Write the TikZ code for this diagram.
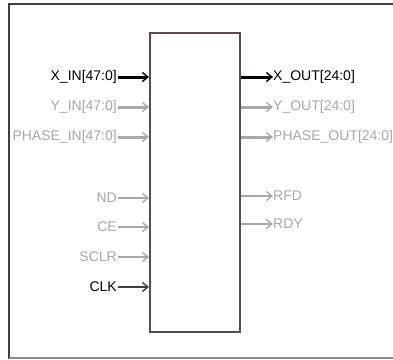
\documentclass[tikz,border=0pt]{standalone}
\usepackage{fontspec}
\setmainfont{Liberation Sans}
\usetikzlibrary{arrows.meta,positioning}

\definecolor{pinoff}{HTML}{A8A8AC}
\definecolor{boxline}{HTML}{5A4C56}

\tikzset{
    inlabel/.style={anchor=east,inner sep=0pt,font=\fontsize{14}{16}\selectfont},
    outlabel/.style={anchor=west,inner sep=0pt,font=\fontsize{14}{16}\selectfont},
    buspin/.style={line width=3pt,-{Straight Barb[length=5.5pt,width=9pt,line width=1.4pt]}},
    wirepin/.style={line width=1.4pt,-{Straight Barb[length=5.5pt,width=9pt,line width=1.4pt]}}
}

\begin{document}
\begin{tikzpicture}[x=1pt,y=-1pt]
    \useasboundingbox (0,0) rectangle (393,359);
    % frame
    \draw[line width=1.5pt,black!75] (9,359) -- (9,4) -- (393,4);
    \draw[line width=1.5pt,black!45] (9,358) -- (393,358);

    % core block
    \node[draw=boxline,line width=2pt,minimum width=90pt,minimum height=299pt,inner sep=0pt]
        (core) at (195,182.5) {};

    % inputs
    \node[inlabel] (xin) at (117,77) {X\_IN[47:0]};
    \node[inlabel,pinoff] (yin) at (117,107) {Y\_IN[47:0]};
    \node[inlabel,pinoff] (phin) at (117,137) {PHASE\_IN[47:0]};
    \node[inlabel,pinoff] (nd) at (117,198) {ND};
    \node[inlabel,pinoff] (ce) at (117,227) {CE};
    \node[inlabel,pinoff] (sclr) at (117,257) {SCLR};
    \node[inlabel] (clk) at (117,287) {CLK};

    \draw[buspin,black] (xin.east) ++(1,0) -- (core.west |- xin);
    \draw[buspin,pinoff] (yin.east) ++(1,0) -- (core.west |- yin);
    \draw[buspin,pinoff] (phin.east) ++(1,0) -- (core.west |- phin);
    \draw[wirepin,pinoff] (nd.east) ++(1,0) -- (core.west |- nd);
    \draw[wirepin,pinoff] (ce.east) ++(1,0) -- (core.west |- ce);
    \draw[wirepin,pinoff] (sclr.east) ++(1,0) -- (core.west |- sclr);
    \draw[wirepin,black!75] (clk.east) ++(1,0) -- (core.west |- clk);

    % outputs
    \node[outlabel] (xout) at (273,77) {X\_OUT[24:0]};
    \node[outlabel,pinoff] (yout) at (273,107) {Y\_OUT[24:0]};
    \node[outlabel,pinoff] (phout) at (273,137) {PHASE\_OUT[24:0]};
    \node[outlabel,pinoff] (rfd) at (273,196) {RFD};
    \node[outlabel,pinoff] (rdy) at (273,224) {RDY};

    \draw[buspin,black] (core.east |- xout) -- (xout.west);
    \draw[buspin,pinoff] (core.east |- yout) -- (yout.west);
    \draw[buspin,pinoff] (core.east |- phout) -- (phout.west);
    \draw[wirepin,pinoff] (core.east |- rfd) -- (rfd.west);
    \draw[wirepin,pinoff] (core.east |- rdy) -- (rdy.west);
\end{tikzpicture}
\end{document}
